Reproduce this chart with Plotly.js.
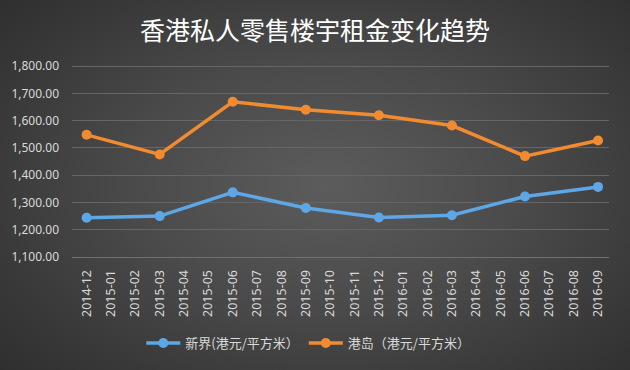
<!DOCTYPE html>
<html><head><meta charset="utf-8">
<script src="https://cdn.plot.ly/plotly-3.0.1.min.js"></script>
<style>
html,body{margin:0;padding:0;}
body{width:630px;height:370px;background:radial-gradient(ellipse 70% 75% at 52% 50%, #5c5c5c 0%, #4a4a4a 45%, #383838 80%, #2f2f2f 100%);}
#chart{width:630px;height:370px;}
</style></head>
<body><div id="chart"></div>
<script>
const months = ["2014-12","2015-01","2015-02","2015-03","2015-04","2015-05","2015-06","2015-07","2015-08","2015-09","2015-10","2015-11","2015-12","2016-01","2016-02","2016-03","2016-04","2016-05","2016-06","2016-07","2016-08","2016-09"];
const newTerritories = [1244,null,null,1250,null,null,1337,null,null,1280,null,null,1245,null,null,1253,null,null,1322,null,null,1357];
const hkIsland = [1548,null,null,1476,null,null,1669,null,null,1640,null,null,1620,null,null,1582,null,null,1470,null,null,1527];
const seriesNames = ["新界(港元/平方米）","港岛（港元/平方米）"];
const tickVals = [1100,1200,1300,1400,1500,1600,1700,1800];

const mk = (y, name, color) => ({
  x: months, y: y, name: name, type: 'scatter', mode: 'lines+markers',
  connectgaps: true,
  line: {color: color, width: 3.5},
  marker: {color: color, size: 10}
});

const data = [
  mk(newTerritories, seriesNames[0], '#5ea7e6'),
  mk(hkIsland, seriesNames[1], '#f28b30')
];

const layout = {
  width: 630, height: 370,
  paper_bgcolor: 'rgba(0,0,0,0)', plot_bgcolor: 'rgba(0,0,0,0)',
  margin: {l: 72, r: 21, t: 65, b: 108},
  title: {text: '香港私人零售楼宇租金变化趋势', x: 0.5, xanchor: 'center', y: 0.915, yanchor: 'middle',
    font: {family: '"Noto Sans CJK SC", sans-serif', size: 25, color: '#ffffff'}},
  font: {family: '"Noto Sans", "Liberation Sans", sans-serif', color: '#d9d9d9', size: 12},
  xaxis: {type: 'category', range: [-0.6, 21.45], tickangle: -90, showgrid: false, zeroline: false,
    showline: true, linecolor: '#707070', linewidth: 1, ticks: '', ticklabelstandoff: 7,
    tickfont: {size: 12.5, color: '#d9d9d9'}, fixedrange: true},
  yaxis: {range: [1100, 1804], tickvals: tickVals, tickformat: ',.2f',
    showgrid: true, gridcolor: '#666666', gridwidth: 1, zeroline: false,
    ticks: '', ticklabelstandoff: 12, tickfont: {size: 12, color: '#d9d9d9'}, fixedrange: true},
  legend: {orientation: 'h', x: 0.44, xanchor: 'center', y: -0.37, yanchor: 'top',
    font: {family: '"Noto Sans CJK SC", sans-serif', size: 13, color: '#d9d9d9'},
    itemwidth: 34, bgcolor: 'rgba(0,0,0,0)'},
  showlegend: true
};

Plotly.newPlot('chart', data, layout, {displayModeBar: false, staticPlot: true});
</script>
</body></html>
